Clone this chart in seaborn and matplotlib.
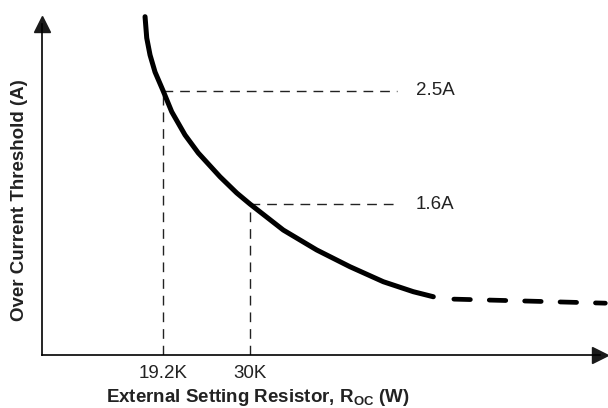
import matplotlib
matplotlib.use("Agg")
import matplotlib.pyplot as plt
import seaborn as sns
import numpy as np

# curve (R in kOhm, threshold in A)
r_solid = [16.97, 17.18, 17.59, 18.21, 19.2, 20.28, 21.93, 23.58, 26.27, 28.35,
           30.0, 34.13, 38.28, 42.41, 46.55, 50.27, 52.75]
i_solid = [3.086, 2.917, 2.782, 2.647, 2.5, 2.332, 2.148, 2.005, 1.817, 1.688,
           1.6, 1.394, 1.236, 1.103, 0.984, 0.905, 0.865]
r_dash = [55.3, 64.8, 74.1]
i_dash = [0.846, 0.830, 0.814]

marks_r = [19.2, 30.0]
marks_i = [2.5, 1.6]
mark_tick_labels = ["19.2K", "30K"]
mark_i_labels = ["2.5A", "1.6A"]

sns.set_theme(style="white")
plt.rcParams["font.family"] = ["Liberation Sans", "DejaVu Sans"]
plt.rcParams["mathtext.fontset"] = "custom"
plt.rcParams["mathtext.rm"] = "Liberation Sans"
plt.rcParams["mathtext.bf"] = "Liberation Sans:bold"

fig = plt.figure(figsize=(6.08, 4.08), dpi=100)
ax = fig.add_axes([42 / 608, 53 / 408, 558 / 608, 331 / 408])
ax.set_xlim(4.18, 73.44)
ax.set_ylim(0.403, 3.028)

# guide lines
guide = dict(color="#222222", linewidth=1.0, dashes=(7, 5))
for r, i, lab in zip(marks_r, marks_i, mark_i_labels):
    ax.plot([r, 48.25], [i, i], **guide)
    ax.plot([r, r], [0.403, i], **guide)
    ax.text(50.6, i, lab, ha="left", va="center", fontsize=13.5, color="#222222")

sns.lineplot(x=r_solid, y=i_solid, ax=ax, color="black", linewidth=3.6,
             solid_capstyle="round", solid_joinstyle="round",
             clip_on=False, sort=False)
line_d, = ax.plot(r_dash, i_dash, color="black", linewidth=3.4,
                  dash_capstyle="round", clip_on=False)
line_d.set_dashes((3.5, 4.0))

# axes with arrows
for s in ["top", "right"]:
    ax.spines[s].set_visible(False)
for s in ["left", "bottom"]:
    ax.spines[s].set_color("black")
    ax.spines[s].set_linewidth(1.2)
ax.plot(1, 0, ">k", ms=11.5, transform=ax.transAxes, clip_on=False)
ax.plot(0, 1, "^k", ms=11.5, transform=ax.transAxes, clip_on=False)

ax.set_xticks(marks_r)
ax.set_xticklabels(mark_tick_labels, fontsize=13.5, color="#222222")
ax.set_yticks([])
ax.tick_params(axis="x", length=0, pad=7)

ax.set_xlabel(r"External Setting Resistor, R$_\mathbf{OC}$ (W)",
              fontsize=13.5, fontweight="bold", color="#222222", va="center")
ax.xaxis.set_label_coords(0.386, -0.127)
ax.set_ylabel("Over Current Threshold (A)", fontsize=13.5, fontweight="bold",
              color="#222222", va="center")
ax.yaxis.set_label_coords(-0.041, 0.468)

fig.savefig("out.png", dpi=100)
